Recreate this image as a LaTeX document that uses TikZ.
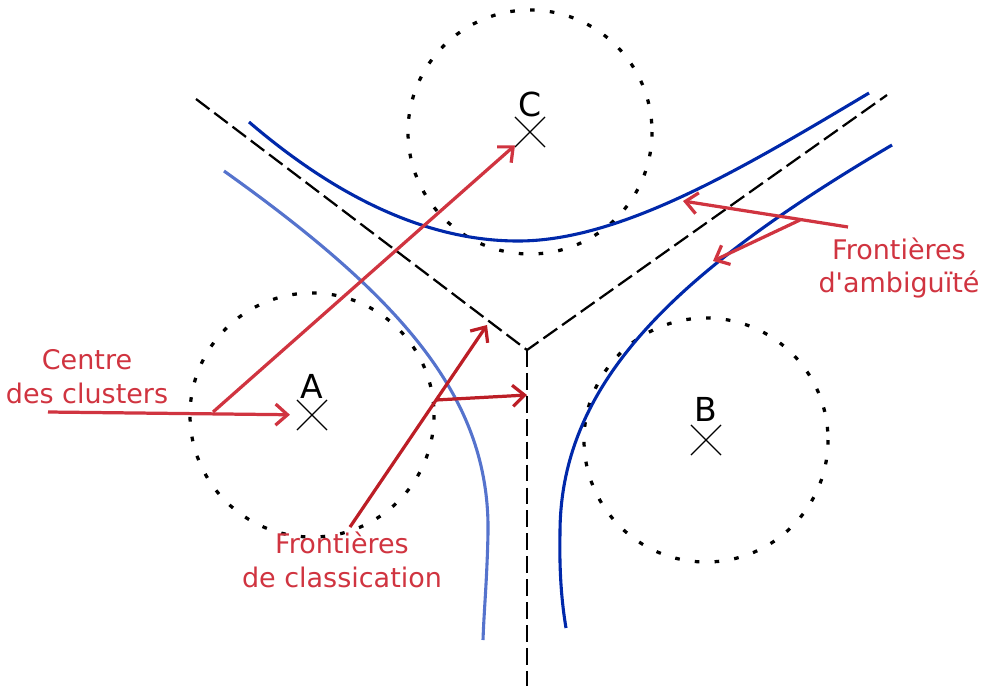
\documentclass[tikz,border=0pt]{standalone}
\usepackage{fontspec}
\setmainfont{DejaVu Sans}
\usetikzlibrary{arrows.meta,shapes.misc}
\definecolor{clRed}{RGB}{208,52,64}
\definecolor{clDarkRed}{RGB}{188,30,38}
\definecolor{clBlue}{RGB}{0,40,170}
\definecolor{clLightBlue}{RGB}{85,115,205}

\begin{document}
\begin{tikzpicture}[x=0.025cm, y=-0.025cm,
  centre/.style={cross out, draw=black, line width=0.9pt, minimum size=0.72cm, inner sep=0pt},
  letter/.style={anchor=base, font=\fontsize{23.5}{28}\selectfont},
  note/.style={align=center, text=clRed, font=\fontsize{19.2}{24}\selectfont},
  zone/.style={black, line width=2.3pt, dash pattern=on 3.3pt off 10.8pt},
  sepline/.style={black, line width=1.6pt, dash pattern=on 12pt off 4.3pt},
  frontier/.style={line width=2.2pt},
  pointer/.style={line width=2.3pt, -{Straight Barb[length=8.5pt,width=15pt]}}]
  \useasboundingbox (0,0) rectangle (984,686);

  % cluster centres and their zones
  \node[centre] (cA) at (312,415) {};
  \node[centre] (cB) at (706,440) {};
  \node[centre] (cC) at (530,132) {};
  \node[letter] (lblA) at (312,398) {A};
  \node[letter] (lblB) at (706,421) {B};
  \node[letter] (lblC) at (530,116) {C};
  \draw[zone] (cA.center) circle[radius=122];
  \draw[zone] (cB.center) circle[radius=122];
  \draw[zone] (cC.center) circle[radius=122];

  % classification boundaries
  \coordinate (jct) at (527,350);
  \coordinate (ulEnd) at (196,99);
  \coordinate (urEnd) at (887,95);
  \coordinate (dnEnd) at (527,686);
  \draw[sepline] (ulEnd) -- (jct) -- (urEnd);
  \draw[sepline] (jct) -- (dnEnd);

  % ambiguity boundaries
  \draw[frontier, clBlue] (249,122) .. controls (340,200) and (430,241) .. (518,241)
    .. controls (620,241) and (740,170) .. (869,93);
  \draw[frontier, clBlue] (892,145) .. controls (680,270) and (560,380) .. (560,533)
    .. controls (559,580) and (563,610) .. (566,628);
  \draw[frontier, clLightBlue] (224,171) .. controls (405,300) and (490,400) .. (488,533)
    .. controls (487,580) and (484,610) .. (483,640);

  % labels
  \node[note] (ctrTxt) at (87,377) {Centre\\des clusters};
  \node[note] (clsTxt) at (342,560) {Frontières\\de classication};
  \node[note] (ambTxt) at (899,268) {Frontières\\d\textquotesingle ambiguïté};

  \coordinate (ctrStart) at (48,412);
  \coordinate (ctrFork) at (213,412);
  \draw[pointer, clRed, shorten >=5pt] (ctrStart) -- (cA);
  \draw[pointer, clRed] (ctrFork) -- (cC);

  \coordinate (clsStart) at (350,527);
  \coordinate (clsFork) at (436,400);
  \coordinate (clsTip1) at (487,325);
  \coordinate (clsTip2) at (527,395);
  \draw[pointer, clDarkRed] (clsStart) -- (clsTip1);
  \draw[pointer, clDarkRed] (clsFork) -- (clsTip2);

  \coordinate (ambStart) at (848,227);
  \coordinate (ambFork) at (800,220);
  \coordinate (ambTip1) at (683,201);
  \coordinate (ambTip2) at (713,261);
  \draw[pointer, clRed] (ambStart) -- (ambTip1);
  \draw[pointer, clRed] (ambFork) -- (ambTip2);
\end{tikzpicture}
\end{document}
